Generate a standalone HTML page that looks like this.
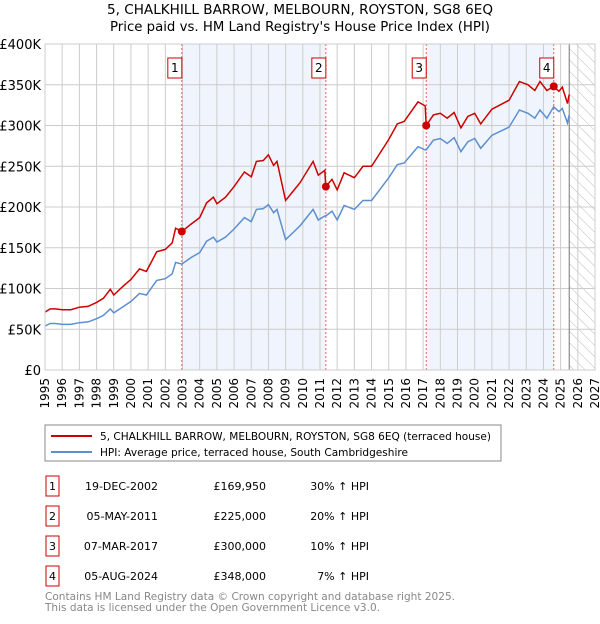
<!DOCTYPE html>
<html><head><meta charset="utf-8"><style>
body{margin:0;background:#fff;width:600px;height:620px;overflow:hidden;font-family:"DejaVu Sans","Liberation Sans",sans-serif}
svg text{font-family:"DejaVu Sans","Liberation Sans",sans-serif}
</style></head><body>
<svg id="c" width="600" height="620">
<defs><pattern id="hatch" width="8" height="8" patternUnits="userSpaceOnUse" patternTransform="rotate(-45)"><line x1="0" y1="0" x2="0" y2="8" stroke="#bbb" stroke-width="1"/></pattern></defs>
<text x="300" y="14" text-anchor="middle" font-size="13" textLength="386" lengthAdjust="spacingAndGlyphs">5, CHALKHILL BARROW, MELBOURN, ROYSTON, SG8 6EQ</text>
<text x="300" y="31" text-anchor="middle" font-size="13" textLength="380" lengthAdjust="spacingAndGlyphs">Price paid vs. HM Land Registry's House Price Index (HPI)</text>
<g id="plot"></g>
<rect x="45" y="425" width="456" height="36" fill="none" stroke="#888"/>
<line x1="51" y1="436" x2="92" y2="436" stroke="#cc0000" stroke-width="2"/>
<text x="100" y="440" font-size="11" textLength="391" lengthAdjust="spacingAndGlyphs">5, CHALKHILL BARROW, MELBOURN, ROYSTON, SG8 6EQ (terraced house)</text>
<line x1="51" y1="452" x2="92" y2="452" stroke="#5b8fd0" stroke-width="2"/>
<text x="100" y="456" font-size="11" textLength="308" lengthAdjust="spacingAndGlyphs">HPI: Average price, terraced house, South Cambridgeshire</text>
<g id="table"></g>
<text x="45" y="600" font-size="11" fill="#888" textLength="410" lengthAdjust="spacingAndGlyphs">Contains HM Land Registry data © Crown copyright and database right 2025.</text>
<text x="45" y="611" font-size="11" fill="#888" textLength="335" lengthAdjust="spacingAndGlyphs">This data is licensed under the Open Government Licence v3.0.</text>
</svg>
<script>
const dates=[1995.0,1995.3,1995.6,1996.0,1996.5,1997.0,1997.5,1998.0,1998.4,1998.8,1999.0,1999.5,2000.0,2000.5,2000.9,2001.5,2002.0,2002.4,2002.6,2002.96,2003.5,2004.0,2004.4,2004.8,2005.0,2005.5,2006.0,2006.6,2007.0,2007.3,2007.7,2008.0,2008.3,2008.5,2009.0,2009.5,2009.84,2010.6,2010.9,2011.28,2011.34,2011.7,2012.0,2012.4,2013.0,2013.5,2014.0,2015.0,2015.5,2015.9,2016.7,2017.12,2017.18,2017.6,2018.0,2018.4,2018.8,2019.2,2019.6,2020.0,2020.35,2021.0,2022.0,2022.6,2023.1,2023.5,2023.8,2024.2,2024.6,2024.9,2025.1,2025.4,2025.5];
const hpi=[54,57,57,56,56,58,59,63,67,75,70,77,84,94,92,110,112,118,132,130,138,144,158,163,157,163,173,187,182,197,198,203,193,197,160,170,177,197,184,189,189,195,184,202,197,208,208,236,252,254,274,270,270,282,284,278,285,268,280,284,272,288,298,319,315,309,319,309,323,317,321,303,313];
const price=[71,75,75,74,74,77,78,83,88,99,92,102,111,124,121,145,148,156,174,169.95,179,187,205,212,204,212,225,243,237,256,257,264,251,256,208,221,230,256,239,245,225,234,221,242,236,250,250,283,302,305,329,324,300,313,315,309,316,297,311,315,302,320,331,354,350,343,354,343,348,342,347,327,338];
const saleLabels=["1","2","3","4"];
const saleDates=[2002.96,2011.34,2017.18,2024.6];
const salePrices=[169.95,225,300,348];
const saleDateText=["19-DEC-2002","05-MAY-2011","07-MAR-2017","05-AUG-2024"];
const salePriceText=["£169,950","£225,000","£300,000","£348,000"];
const salePctText=["30% ↑ HPI","20% ↑ HPI","10% ↑ HPI","7% ↑ HPI"];
const yTicks=[0,50,100,150,200,250,300,350,400];
const yTickLabels=["£0","£50K","£100K","£150K","£200K","£250K","£300K","£350K","£400K"];
const xMin=1995,xMax=2027,dataEnd=2025.5;
const L=45,R=595,T=44,B=370;
const X=v=>L+(v-xMin)/(xMax-xMin)*(R-L);
const Y=v=>B-v/400*(B-T);
const NS="http://www.w3.org/2000/svg";
const g=document.getElementById('plot');
function mk(tag,a,p){const e=document.createElementNS(NS,tag);for(const k in a)e.setAttribute(k,a[k]);(p||g).appendChild(e);return e;}
for(let i=0;i<saleDates.length;i+=2){
 const x1=X(saleDates[i]),x2=i+1<saleDates.length?X(saleDates[i+1]):X(dataEnd);
 const r=mk('rect',{x:x1,y:T,width:x2-x1,height:B-T,fill:'#f0f5fd'});
 
 
}
const h=mk('rect',{x:X(dataEnd),y:T,width:R-X(dataEnd),height:B-T,fill:'url(#hatch)'});


for(let yr=xMin;yr<=xMax;yr++){
 const l=mk('line',{x1:X(yr),x2:X(yr),y1:T,y2:B,stroke:'#ccc'});
 
 
 const t=mk('text',{x:0,y:0,'font-size':12,'text-anchor':'end',transform:`translate(${X(yr)+4},${B+8}) rotate(-90)`});
 t.textContent=yr;
 
 
}
yTicks.forEach((v,i)=>{
 const l=mk('line',{x1:L,x2:R,y1:Y(v),y2:Y(v),stroke:'#ccc'});
 
 
 const t=mk('text',{x:L-4,y:Y(v)+5,'font-size':13,'text-anchor':'end'});
 t.textContent=yTickLabels[i];
 
 
});
const de=mk('line',{x1:X(dataEnd),x2:X(dataEnd),y1:T,y2:B,stroke:'#777'});


saleDates.forEach((d,i)=>{
 const l=mk('line',{x1:X(d),x2:X(d),y1:T,y2:B,stroke:'#e06060','stroke-dasharray':'2,2'});
 
 
 const b=mk('rect',{x:X(d)-14,y:58,width:14,height:20,fill:'#fff',stroke:'#cc0000'});
 
 
 const t=mk('text',{x:X(d)-7,y:72,'font-size':12,'text-anchor':'middle'});
 t.textContent=saleLabels[i];
 
 
});
function pathOf(arr){return arr.map((v,i)=>(i?'L':'M')+X(dates[i]).toFixed(1)+','+Y(v).toFixed(1)).join('');}
const hl=mk('path',{d:pathOf(hpi),fill:'none',stroke:'#5b8fd0','stroke-width':1.5});


const pl=mk('path',{d:pathOf(price),fill:'none',stroke:'#cc0000','stroke-width':1.5});


saleDates.forEach((d,i)=>{
 const c=mk('circle',{cx:X(d),cy:Y(salePrices[i]),r:4,fill:'#cc0000'});
 
 
});
const ax=mk('rect',{x:L,y:T,width:R-L,height:B-T,fill:'none',stroke:'#ccc'});


const tg=document.getElementById('table');
saleLabels.forEach((s,i)=>{
 const cy=486+i*30;
 const b=mk('rect',{x:46,y:cy-10,width:13,height:20,fill:'#fff',stroke:'#cc0000'},tg);
 
 
 const t0=mk('text',{x:52.5,y:cy+4,'font-size':11,'text-anchor':'middle'},tg);
 t0.textContent=s;
 
 
 const t1=mk('text',{x:158,y:cy+4,'font-size':11,'text-anchor':'end'},tg);
 t1.textContent=saleDateText[i];
 
 
 const t2=mk('text',{x:266,y:cy+4,'font-size':11,'text-anchor':'end'},tg);
 t2.textContent=salePriceText[i];
 
 
 const t3=mk('text',{x:369,y:cy+4,'font-size':11,'text-anchor':'end'},tg);
 t3.textContent=salePctText[i];
 
 
});
</script>
</body></html>
